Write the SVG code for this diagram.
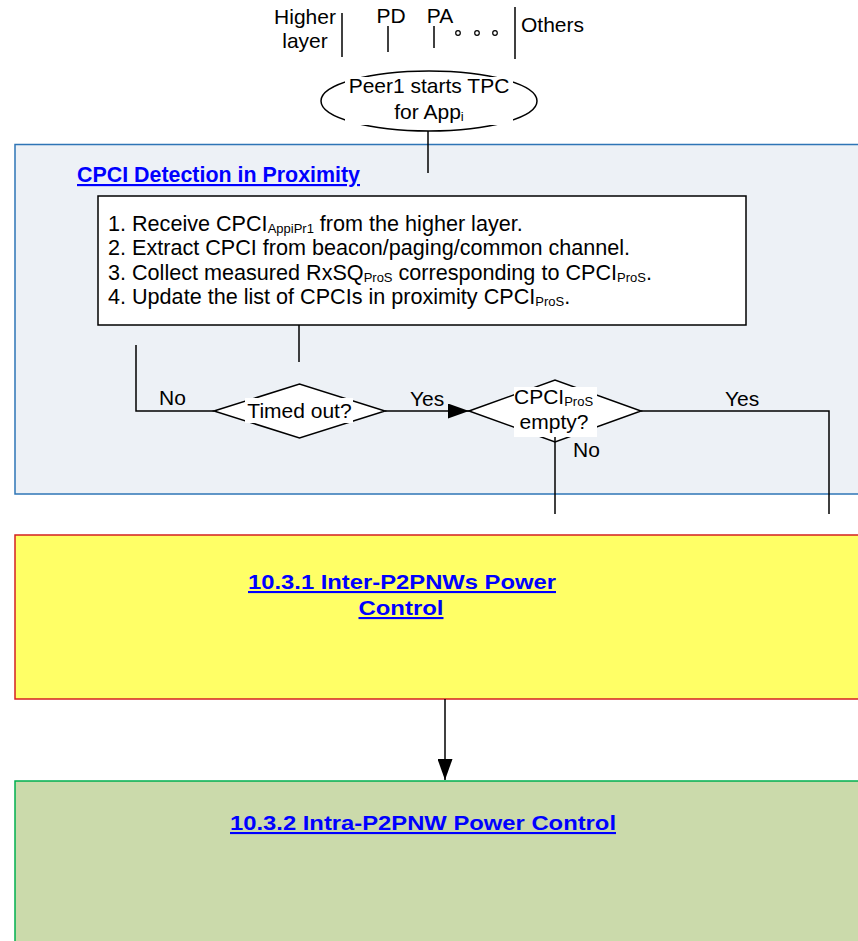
<svg xmlns="http://www.w3.org/2000/svg" width="858" height="941" viewBox="0 0 858 941">
<style>
text{font-family:"Liberation Sans",Arial,sans-serif;font-size:21px;fill:#000}
.h{font-weight:bold;fill:#0000FF;text-decoration:underline}
.big{font-size:21.6px}
.ln{stroke:#000;stroke-width:1.5;fill:none}
.sub{font-size:13px}
</style>
<defs>
<marker id="ah" markerWidth="21" markerHeight="15" refX="21" refY="7.5" orient="auto" markerUnits="userSpaceOnUse">
<path d="M0,0 L21,7.5 L0,15 Z" fill="#000"/>
</marker>
</defs>
<rect width="858" height="941" fill="#fff"/>

<g id="layers">
<text x="305" y="24" text-anchor="middle">Higher</text>
<text x="305" y="48" text-anchor="middle">layer</text>
<line class="ln" x1="342" y1="13" x2="342" y2="57"/>
<text x="391" y="23" text-anchor="middle">PD</text>
<line class="ln" x1="388" y1="26" x2="388" y2="52"/>
<text x="440" y="23" text-anchor="middle">PA</text>
<line class="ln" x1="434" y1="26" x2="434" y2="48"/>
<circle cx="458" cy="33" r="2.3" fill="none" stroke="#000" stroke-width="1.2"/>
<circle cx="477" cy="33" r="2.3" fill="none" stroke="#000" stroke-width="1.2"/>
<circle cx="495" cy="33" r="2.3" fill="none" stroke="#000" stroke-width="1.2"/>
<line class="ln" x1="515" y1="7" x2="515" y2="59"/>
<text x="521" y="32">Others</text>
</g>

<g id="detection">
<rect x="15" y="144.5" width="860" height="349.5" fill="#EDF1F6" stroke="#2E75B6" stroke-width="1.5"/>
<text class="h big" x="77" y="182" textLength="283" lengthAdjust="spacingAndGlyphs">CPCI Detection in Proximity</text>
</g>

<g id="start">
<ellipse cx="429" cy="101" rx="108" ry="30" fill="#fff" stroke="#000" stroke-width="1.5"/>
<rect x="345" y="77" width="168" height="48" fill="#fff"/>
<text x="429" y="93" text-anchor="middle">Peer1 starts TPC</text>
<text x="429" y="119" text-anchor="middle">for App<tspan class="sub" dy="2">i</tspan></text>
</g>

<g id="steps">
<rect x="98" y="196" width="648" height="129" fill="#fff" stroke="#000" stroke-width="1.5"/>
<text class="big" x="108" y="231">1. Receive CPCI<tspan class="sub" dy="2">AppiPr1</tspan><tspan dy="-2"> from the higher layer.</tspan></text>
<text class="big" x="108" y="255">2. Extract CPCI from beacon/paging/common channel.</text>
<text class="big" x="108" y="279.5">3. Collect measured RxSQ<tspan class="sub" dy="2">ProS</tspan><tspan dy="-2"> corresponding to CPCI</tspan><tspan class="sub" dy="2">ProS</tspan><tspan dy="-2">.</tspan></text>
<text class="big" x="108" y="304">4. Update the list of CPCIs in proximity CPCI<tspan class="sub" dy="2">ProS</tspan><tspan dy="-2">.</tspan></text>
</g>

<g id="timedout">
<polygon points="214,411 299.5,384 385,411 299.5,438" fill="#fff" stroke="#000" stroke-width="1.5"/>
<rect x="245" y="398" width="108" height="25" fill="#fff"/>
<text x="299.5" y="418" text-anchor="middle">Timed out?</text>
</g>

<g id="empty">
<polygon points="469,411 555,380 641,411 555,442" fill="#fff" stroke="#000" stroke-width="1.5"/>
<rect x="514" y="387" width="83" height="50" fill="#fff"/>
<text x="514" y="404">CPCI<tspan class="sub" dy="2">ProS</tspan></text>
<text x="554" y="429" text-anchor="middle">empty?</text>
</g>

<g id="inter">
<rect x="15" y="535" width="860" height="164" fill="#FFFF66" stroke="#D42020" stroke-width="1.5"/>
<text class="h" x="402" y="589" text-anchor="middle" textLength="308" lengthAdjust="spacingAndGlyphs">10.3.1 Inter-P2PNWs Power</text>
<text class="h" x="401" y="615" text-anchor="middle" textLength="85" lengthAdjust="spacingAndGlyphs">Control</text>
</g>

<g id="intra">
<rect x="15" y="781" width="860" height="200" fill="#CBDAAB" stroke="#00B050" stroke-width="1.5"/>
<text class="h" x="423" y="830" text-anchor="middle" textLength="386" lengthAdjust="spacingAndGlyphs">10.3.2 Intra-P2PNW Power Control</text>
</g>

<g id="connectors">
<line class="ln" x1="428" y1="131" x2="428" y2="173"/>
<line class="ln" x1="299" y1="325" x2="299" y2="362"/>
<polyline class="ln" points="136,345 136,411 214,411"/>
<text x="159" y="405">No</text>
<line class="ln" x1="385" y1="411" x2="469" y2="411" marker-end="url(#ah)"/>
<text x="410" y="406">Yes</text>
<line class="ln" x1="555" y1="437" x2="555" y2="514"/>
<text x="573" y="457">No</text>
<polyline class="ln" points="641,411 829,411 829,514"/>
<text x="725" y="406">Yes</text>
<line class="ln" x1="445" y1="699" x2="445" y2="780" marker-end="url(#ah)"/>
</g>
</svg>
